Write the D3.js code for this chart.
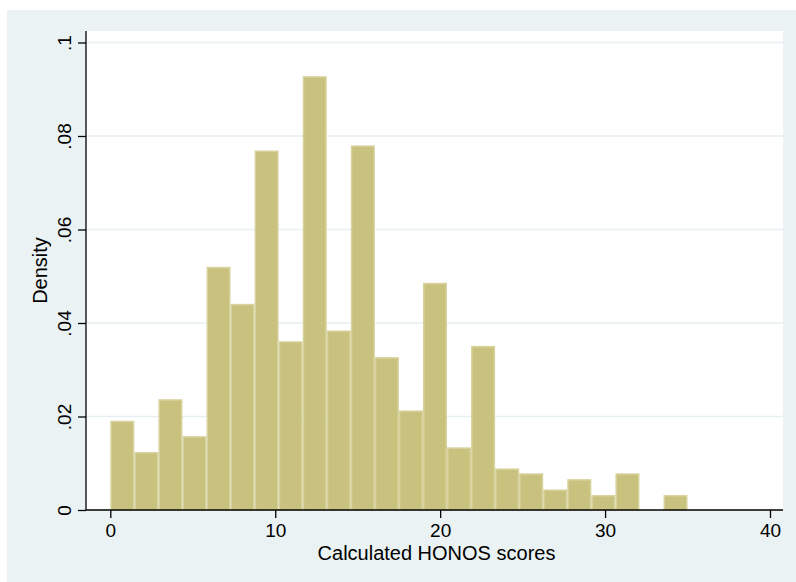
<!DOCTYPE html>
<html>
<head>
<meta charset="utf-8">
<script src="https://cdn.jsdelivr.net/npm/d3@7"></script>
<style>
  html, body { margin: 0; padding: 0; background: #ffffff; }
  svg { display: block; font-family: "Liberation Sans", Arial, Helvetica, sans-serif; }
</style>
</head>
<body>
<svg id="chart" width="796" height="582"></svg>
<script>
// Histogram of calculated HONOS scores: 24 equal bins from 0 to 35
const binStart = 0;
const binEnd = 35;
const densities = [
  0.0191, 0.0124, 0.0237, 0.0158, 0.0520, 0.0441, 0.0769, 0.0361,
  0.0928, 0.0384, 0.0780, 0.0327, 0.0213, 0.0486, 0.0134, 0.0351,
  0.0089, 0.00785, 0.0044, 0.0066, 0.0032, 0.00785, 0, 0.0032
];
const xTicks = [0, 10, 20, 30, 40];
const yTicks = [0, 0.02, 0.04, 0.06, 0.08, 0.1];
const yTickLabels = ["0", ".02", ".04", ".06", ".08", ".1"];
const xTitle = "Calculated HONOS scores";
const yTitle = "Density";

const binWidth = (binEnd - binStart) / densities.length;
const bins = densities.map((d, i) => ({
  x0: binStart + i * binWidth,
  x1: binStart + (i + 1) * binWidth,
  density: d
}));

const svg = d3.select("#chart");

// Graph region and plot region
const outer = { left: 7, top: 10, right: 796, bottom: 582 };
const plot = { left: 86, top: 31, right: 783, bottom: 510 };

svg.append("rect")
  .attr("x", outer.left).attr("y", outer.top)
  .attr("width", outer.right - outer.left)
  .attr("height", outer.bottom - outer.top)
  .attr("fill", "#eaf2f3");

svg.append("rect")
  .attr("x", plot.left).attr("y", plot.top)
  .attr("width", plot.right - plot.left)
  .attr("height", plot.bottom - plot.top)
  .attr("fill", "#ffffff");

const x = d3.scaleLinear().domain([0, 40]).range([110.3, 770]);
const y = d3.scaleLinear().domain([0, 0.1]).range([plot.bottom, 42.5]);

// Horizontal grid lines
svg.append("g")
  .selectAll("line")
  .data(yTicks.filter(t => t > 0))
  .join("line")
  .attr("x1", plot.left).attr("x2", plot.right)
  .attr("y1", d => y(d)).attr("y2", d => y(d))
  .attr("stroke", "#e6eff2")
  .attr("stroke-width", 1.6);

// Bars
svg.append("g")
  .selectAll("rect")
  .data(bins.filter(b => b.density > 0))
  .join("rect")
  .attr("x", d => x(d.x0) + 0.75)
  .attr("width", d => x(d.x1) - x(d.x0) - 1.5)
  .attr("y", d => y(d.density) + 0.75)
  .attr("height", d => y(0) - y(d.density) - 0.75)
  .attr("fill", "#c9c27e")
  .attr("stroke", "#d8d29e")
  .attr("stroke-width", 1.5);

// Y axis
const yAxis = d3.axisLeft(y)
  .tickValues(yTicks)
  .tickFormat((d, i) => yTickLabels[i])
  .tickSize(8)
  .tickPadding(6);

const gy = svg.append("g")
  .attr("transform", `translate(${plot.left},0)`)
  .call(yAxis);
gy.select(".domain").attr("d", `M0,${plot.top}V${plot.bottom}`).attr("stroke", "#000").attr("stroke-width", 1.3);
gy.selectAll(".tick line").attr("stroke", "#000").attr("stroke-width", 1.3);
gy.selectAll(".tick text")
  .attr("font-size", 19)
  .attr("fill", "#000")
  .attr("x", 0).attr("dy", 0)
  .attr("text-anchor", "middle")
  .attr("transform", "translate(-15,0) rotate(-90)")
  .attr("y", 0);

// X axis
const xAxis = d3.axisBottom(x)
  .tickValues(xTicks)
  .tickSize(8)
  .tickPadding(6);

const gx = svg.append("g")
  .attr("transform", `translate(0,${plot.bottom})`)
  .call(xAxis);
gx.select(".domain").attr("d", `M${plot.left},0H${plot.right}`).attr("stroke", "#000").attr("stroke-width", 1.3);
gx.selectAll(".tick line").attr("stroke", "#000").attr("stroke-width", 1.3);
gx.selectAll(".tick text")
  .attr("font-size", 19)
  .attr("fill", "#000");

// Axis titles
svg.append("text")
  .attr("x", (plot.left + plot.right) / 2 + 2)
  .attr("y", 560)
  .attr("text-anchor", "middle")
  .attr("font-size", 20)
  .attr("fill", "#000")
  .text(xTitle);

svg.append("text")
  .attr("transform", `translate(47,${(plot.top + plot.bottom) / 2}) rotate(-90)`)
  .attr("text-anchor", "middle")
  .attr("font-size", 20)
  .attr("fill", "#000")
  .text(yTitle);
</script>
</body>
</html>
